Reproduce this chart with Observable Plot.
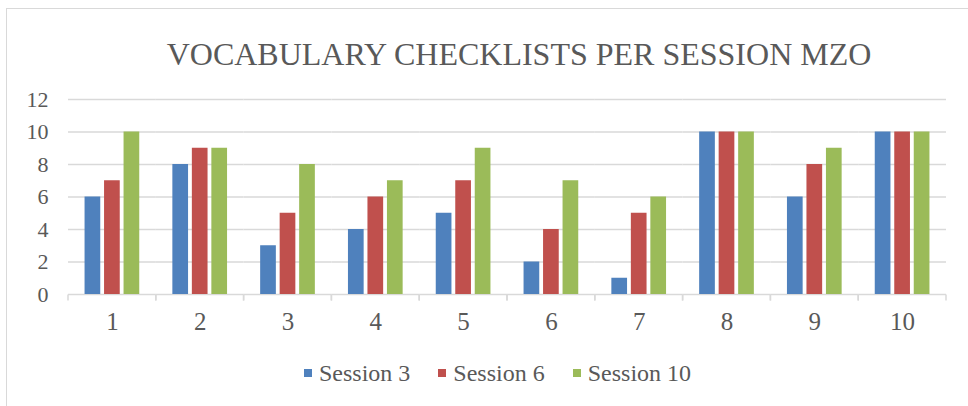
<!DOCTYPE html>
<html><head><meta charset="utf-8">
<script src="https://cdn.jsdelivr.net/npm/d3@7"></script>
<script src="https://cdn.jsdelivr.net/npm/@observablehq/plot@0.6"></script>
<style>
html,body{margin:0;padding:0;background:#fff;width:968px;height:406px;overflow:hidden;color:#595959}
#frame{position:absolute;left:6px;top:8px;width:1200px;height:600px;border-left:1.5px solid #d9d9d9;border-top:1.5px solid #d9d9d9;box-sizing:border-box}
#title{position:absolute;left:0;width:1038px;top:38px;text-align:center;font-size:32px;line-height:32px;white-space:nowrap}
#chart{position:absolute;left:0;top:80px}
#legend{position:absolute;left:304px;top:361px;display:flex;align-items:center;font-size:24px;line-height:24px;white-space:nowrap}
.item{display:flex;align-items:center;margin-right:28px}
.sw{width:8px;height:8px;margin-right:7px}
</style></head><body>
<div id="frame"></div>
<div id="title" style="font-family:'Liberation Serif'">VOCABULARY CHECKLISTS PER SESSION MZO</div>
<div id="chart"></div>
<div id="legend" style="font-family:'Liberation Serif'"></div>
<script>
const categories = [1, 2, 3, 4, 5, 6, 7, 8, 9, 10];
const seriesNames = ["Session 3", "Session 6", "Session 10"];
const session3 = [6, 8, 3, 4, 5, 2, 1, 10, 6, 10];
const session6 = [7, 9, 5, 6, 7, 4, 5, 10, 8, 10];
const session10 = [10, 9, 8, 7, 9, 7, 6, 10, 9, 10];
const seriesColors = ["#4F81BD", "#C0504D", "#9BBB59"];
const yTicks = [0, 2, 4, 6, 8, 10, 12];

const seriesValues = [session3, session6, session10];
const table = [];
categories.forEach((c, i) => {
  seriesNames.forEach((s, j) => table.push({category: c, series: s, value: seriesValues[j][i]}));
});

const grid = "#d9d9d9";
const serif = "'Liberation Serif'";

const chart = Plot.plot({
  width: 968, height: 260,
  marginTop: 19, marginBottom: 46, marginLeft: 68, marginRight: 22,
  style: {fontFamily: serif, color: "#595959", background: "transparent", overflow: "visible"},
  fx: {domain: categories, padding: 0, round: false, label: null},
  x: {domain: seriesNames, axis: null, round: false, paddingInner: 0.195, paddingOuter: 0.849},
  y: {domain: [0, 12], label: null},
  color: {domain: seriesNames, range: seriesColors},
  marks: [
    Plot.ruleY(yTicks.filter(d => d > 0), {stroke: grid, strokeWidth: 1.5}),
    Plot.ruleY([0], {
      stroke: grid, strokeWidth: 1.5,
      render(index, scales, values, dimensions, context, next) {
        const g = next(index, scales, values, dimensions, context);
        const y0 = scales.y(0);
        const {marginLeft, marginRight, width} = dimensions;
        for (const x of [marginLeft, width - marginRight]) {
          const line = document.createElementNS("http://www.w3.org/2000/svg", "line");
          line.setAttribute("x1", x); line.setAttribute("x2", x);
          line.setAttribute("y1", y0); line.setAttribute("y2", y0 + 6);
          line.setAttribute("stroke", grid); line.setAttribute("stroke-width", 1.5);
          g.appendChild(line);
        }
        return g;
      }
    }),
    Plot.barY(table, {fx: "category", x: "series", y: "value", fill: "series"}),
    Plot.axisY({ticks: yTicks, tickSize: 0, tickPadding: 20, fontSize: 22, fontFamily: serif, label: null}),
    Plot.axisFx({anchor: "bottom", tickSize: 0, tickPadding: 18, fontSize: 25, fontFamily: serif, label: null})
  ]
});
chart.querySelectorAll("text").forEach(t => { t.style.fontFamily = serif; });
document.getElementById("chart").appendChild(chart);

const legend = document.getElementById("legend");
seriesNames.forEach((s, j) => {
  const item = document.createElement("div");
  item.className = "item";
  const sw = document.createElement("div");
  sw.className = "sw";
  sw.style.background = seriesColors[j];
  const t = document.createElement("span");
  t.style.fontFamily = serif;
  t.textContent = s;
  item.appendChild(sw); item.appendChild(t);
  legend.appendChild(item);
});
</script>
</body></html>
